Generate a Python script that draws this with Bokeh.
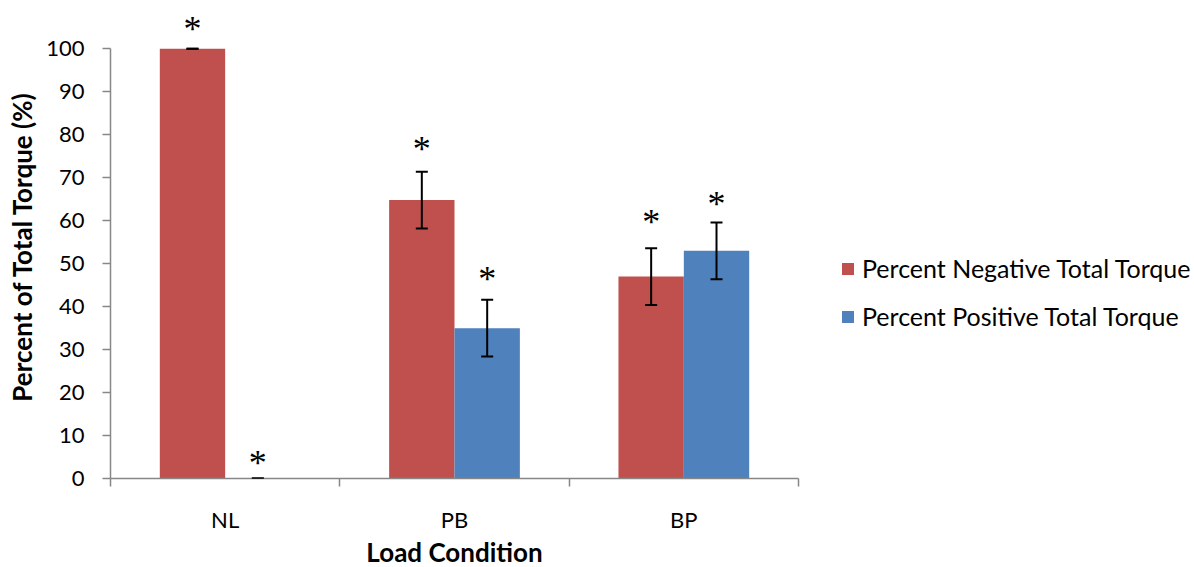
from bokeh.plotting import figure
from bokeh.models import Range1d, FixedTicker, Whisker, TeeHead, ColumnDataSource, Legend, LegendItem
from bokeh.core.properties import value
from bokeh.embed import file_html
from bokeh.resources import INLINE

# ---- data ----
categories = ["NL", "PB", "BP"]
series_names = ["Percent Negative Total Torque", "Percent Positive Total Torque"]
negative = [100.0, 64.8, 47.0]
negative_err = [0.0, 6.6, 6.6]
positive = [0.0, 35.0, 53.0]
positive_err = [0.0, 6.6, 6.6]
# heights of the significance markers (*) in data units
star_negative = [105.8, 77.9, 60.9]
star_positive = [4.7, 47.6, 65.0]
y_ticks = [0, 10, 20, 30, 40, 50, 60, 70, 80, 90, 100]
colors = ["#C0504D", "#4F81BD"]

FONT = "Lato"
AX = "#878787"
BAR_W = 0.285

p = figure(frame_width=688, frame_height=464,
           x_range=Range1d(0, len(categories)), y_range=Range1d(0, 108),
           output_backend="svg", toolbar_location=None,
           min_border_left=110, min_border_right=394, min_border_top=14, min_border_bottom=80)
p.outline_line_color = None
p.xgrid.visible = False
p.ygrid.visible = False
p.background_fill_color = "white"


def make_source(vals, errs, stars, shift):
    xs = [i + 0.5 + shift for i in range(len(categories))]
    return ColumnDataSource(dict(
        x=xs, top=vals,
        lower=[v - e for v, e in zip(vals, errs)],
        upper=[v + e for v, e in zip(vals, errs)],
        star=stars, mark=["*"] * len(vals)))


src_neg = make_source(negative, negative_err, star_negative, -BAR_W / 2)
src_pos = make_source(positive, positive_err, star_positive, BAR_W / 2)

renderers = []
for src, col in ((src_neg, colors[0]), (src_pos, colors[1])):
    r = p.vbar(x="x", top="top", bottom=0, width=BAR_W, source=src,
               fill_color=col, line_color=None)
    renderers.append(r)
    w = Whisker(source=src, base="x", lower="lower", upper="upper",
                line_color="black", line_width=2, level="overlay",
                upper_head=TeeHead(size=12, line_width=2, line_color="black"),
                lower_head=TeeHead(size=12, line_width=2, line_color="black"))
    p.add_layout(w)
    p.text(x="x", y="star", text="mark", source=src, y_offset=5,
           text_font=value("Liberation Serif"), text_font_size="36px",
           text_align="center", text_baseline="middle", text_color="black")

# x axis
xa = p.xaxis[0]
xa.ticker = FixedTicker(ticks=[i + 0.5 for i in range(len(categories))],
                        minor_ticks=list(range(len(categories) + 1)))
xa.major_label_overrides = {i + 0.5: c for i, c in enumerate(categories)}
xa.axis_line_color = AX
xa.axis_line_width = 1.5
xa.major_tick_out = 0
xa.major_tick_in = 0
xa.minor_tick_out = 8
xa.minor_tick_in = 0
xa.minor_tick_line_color = AX
xa.minor_tick_line_width = 1.5
xa.major_label_standoff = 19
xa.major_label_text_font = FONT
xa.major_label_text_font_size = "22px"
xa.major_label_text_color = "black"
xa.axis_label = "Load Condition"
xa.axis_label_text_font = FONT
xa.axis_label_text_font_style = "bold"
xa.axis_label_text_font_size = "26px"
xa.axis_label_text_color = "black"
xa.axis_label_standoff = 0

# y axis
ya = p.yaxis[0]
ya.ticker = FixedTicker(ticks=y_ticks, minor_ticks=[])
ya.bounds = (y_ticks[0], y_ticks[-1])
ya.axis_line_color = AX
ya.axis_line_width = 1.5
ya.major_tick_out = 8
ya.major_tick_in = 0
ya.major_tick_line_color = AX
ya.major_tick_line_width = 1.5
ya.minor_tick_line_color = None
ya.major_label_standoff = 18
ya.major_label_text_font = FONT
ya.major_label_text_font_size = "22px"
ya.major_label_text_color = "black"
ya.axis_label = "Percent of Total Torque (%)"
ya.axis_label_text_font = FONT
ya.axis_label_text_font_style = "bold"
ya.axis_label_text_font_size = "26px"
ya.axis_label_text_color = "black"
ya.axis_label_standoff = 5

legend = Legend(items=[LegendItem(label=series_names[0], renderers=[renderers[0]]),
                       LegendItem(label=series_names[1], renderers=[renderers[1]])],
                location=(42, 146))
legend.border_line_color = None
legend.background_fill_alpha = 0
legend.padding = 0
legend.margin = 0
legend.spacing = 16
legend.glyph_width = 15
legend.glyph_height = 15
legend.label_standoff = 7
legend.label_height = 32
legend.label_text_font = FONT
legend.label_text_font_size = "25px"
legend.label_text_color = "black"
p.add_layout(legend, "right")

open("out.html", "w").write(file_html(p, INLINE))
